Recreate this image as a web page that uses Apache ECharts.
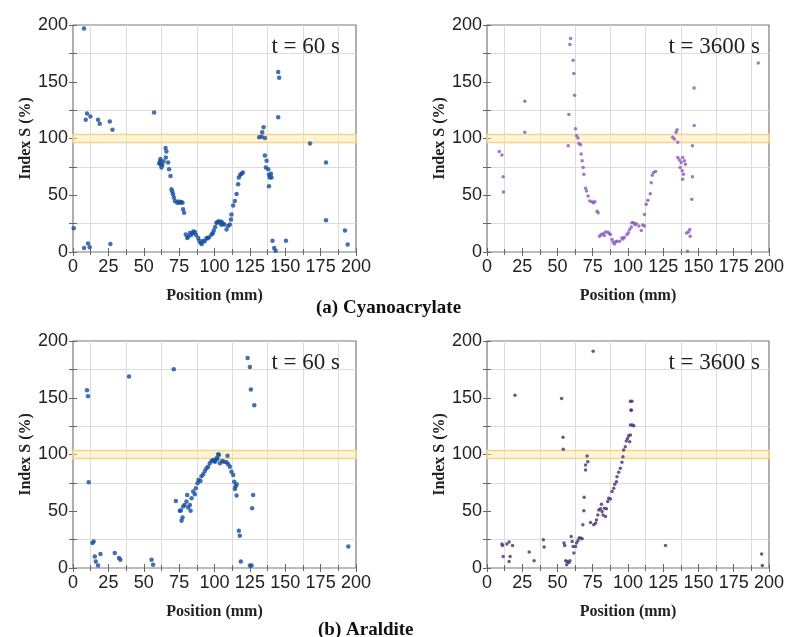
<!DOCTYPE html>
<html>
<head>
<meta charset="utf-8">
<script src="https://cdn.jsdelivr.net/npm/echarts@6/dist/echarts.min.js"></script>
<style>
  html, body { margin: 0; padding: 0; background: #fff; }
  #chart { width: 787px; height: 637px; }
</style>
</head>
<body>
<div id="chart"></div>
<script>
// Index S (%) versus position along the joint (mm), two adhesives, two times.

const xTicks = [0, 25, 50, 75, 100, 125, 150, 175, 200];
const yTicks = [0, 50, 100, 150, 200];
const refBand = [96.5, 103.5];

// (a) Cyanoacrylate, t = 60 s
const cyano60X = [7.8, 0.5, 9, 9.9, 12.3, 17.7, 18.9, 26, 27.9, 7.8, 10.6, 11.8, 26.4, 57.3,
  60.9, 61.8, 62.5, 63.2, 64, 61.5, 62, 65.4, 65.6, 66, 67.2, 67.9, 68.9, 69.6, 70.2, 70.7, 71.3, 72, 73.6, 74.5, 75.5, 76.5, 77.4, 77.8, 78.5,
  79.7, 80.7, 81.5, 82.6, 83.5, 84.5, 85, 86.1, 87, 88.5, 89.3, 90.2, 91, 92, 93, 94.4, 95, 96.2, 97.9, 98.8, 99.5, 100.5, 101.4, 102, 103, 104, 104.8, 105, 106, 107, 108.5, 109.7, 110.9,
  111.6, 112, 113.2, 114.4, 115.6, 116.7, 117.2, 118.2, 119.1, 120,
  131.6, 133.3, 133.7, 134.7, 135.6, 135.6, 136.8, 136.3, 138, 138.5, 139.9, 139, 140.3, 138.5,
  145, 145.7, 145, 167.5, 178.8, 178.8, 192.2, 194.1, 141, 142.2, 143.2, 150.5];
const cyano60Y = [197, 21, 116.5, 122, 119.4, 116.5, 113, 115, 107.6, 3.5, 7.4, 4.2, 7.1, 123,
  78, 82, 74.4, 76.8, 80, 80, 77, 91.6, 83.3, 88.6, 78.9, 73, 67, 55.3, 53, 50.9, 48, 45, 43.5, 44.5, 43.5, 44, 43.5, 37.6, 34.6,
  15.4, 12.4, 13.5, 16.8, 15, 16.8, 18, 17.7, 15, 12.4, 10, 8, 7, 10, 9.5, 12.4, 12, 13, 15.4, 16.5, 19, 22, 25.7, 26, 27, 26, 24, 26.6, 25, 24.3, 19.8, 22.8, 24.3,
  28.7, 33, 41, 45, 51, 59.7, 65.6, 68, 69, 70,
  101, 101.6, 105.5, 110, 100.5, 85, 80.4, 74.4, 73, 68, 69, 65.6, 65.6, 58,
  158.6, 153.6, 118.7, 95.7, 78.9, 28, 19, 6.5, 10, 3.5, 1.2, 10];

// (a) Cyanoacrylate, t = 3600 s
const cyano3600X = [8.7, 10.6, 11.5, 11.7, 26.8, 26.8,
  59.3, 58.8, 61.1, 61.6, 62.1, 58.1, 57.6, 62.8, 63.5, 64.5, 65.2, 66.4, 66.8, 67.5, 68.2, 68.7, 69.9, 70.6, 71.7, 72.9, 74.5, 75.5, 76.5, 78.1, 78.8,
  79.9, 80.9, 82.3, 83.2, 84, 85.6, 86.5, 87.5, 88.7, 89.5, 90.4, 91.3, 92.2, 94.1, 95.7, 96.5, 97.4, 99.3, 100.2, 101.2, 102.4, 102.8, 104, 105, 105.9, 107.7, 109.4, 110.5, 111.7,
  111.7, 112.9, 114.1, 115.8, 116.5, 117.2, 118.1, 119.6,
  131.7, 132.9, 134.1, 134.8, 135.3, 135.3, 136.5, 137.7, 138.8, 140, 137, 138.4, 139.3, 140.7, 138.8,
  146.9, 146.9, 145.7, 145.7, 145.2, 143.8, 142.9, 144.1, 141.5, 142.2, 192.4];
const cyano3600Y = [88.6, 85.4, 66.2, 52.9, 132.9, 105.5,
  188.2, 182.9, 169, 157.2, 138, 121.1, 93.7, 108.5, 102.5, 100.5, 95.7, 94.5, 86.3, 80.4, 74.4, 68.6, 56.2, 53.8, 49.4, 44.9, 44.3, 43.5, 44.3, 36, 34.6,
  13.9, 15.4, 16, 14.5, 17.7, 17.7, 16.5, 15.4, 11, 8.5, 7.1, 9, 9.5, 9.5, 12.4, 11.5, 13, 15.4, 17, 19.8, 22, 25.7, 25.7, 24, 24.8, 22.8, 19, 23.7, 22.8,
  33.1, 42, 45.5, 51.4, 61.1, 67.7, 70, 70.9,
  101, 99.6, 105.5, 107.6, 96.6, 83.3, 81, 78.9, 83.3, 80.4, 74.4, 71.5, 68.6, 77.4, 64.2,
  144.5, 111.4, 93.7, 66.2, 46.4, 19.8, 17.7, 13.9, 16.8, 0.6, 166.6];

// (b) Araldite, t = 60 s
const aral60X = [9.9, 10.6, 11.1, 13.7, 14.6, 15.4, 16.1, 17.7, 19.4, 29.5, 32.5, 33.5, 39.6, 55.5, 56.6, 71.2,
  72.7, 75.5, 76.2, 77.4, 76.7, 77.8, 78.9, 80.2, 80.7, 81.4, 82.6, 83.1, 83.8, 84.9, 86.1, 86.8, 88, 88.7, 90.1, 90.8, 92, 93.2, 94.4, 95.5, 96.7, 97.9, 99, 100.3, 101.4, 102.6,
  100.2, 102.1, 103.1, 103.8, 105.4, 106.8, 108.5, 109.2, 109.7, 110.9, 112, 113.2, 113.9, 114.9, 115.6, 114.4, 115.6,
  117.2, 117.9, 118.6, 123.4, 125, 125.7, 128.1, 127.3, 126.6, 125, 126.2, 194.6];
const aral60Y = [156.7, 151.4, 75.6, 22, 23.4, 10.2, 5.8, 2.3, 12.3, 13.2, 8.8, 7.3, 168.7, 7.3, 2.9, 175.1,
  59.1, 50.4, 50.6, 44.5, 41.6, 54.1, 55.6, 58.5, 64.4, 53.3, 55.6, 50.4, 61.5, 67.3, 65, 70.3, 74.7, 77.6, 76.7, 80.8, 82.6, 85.5, 87.9, 89.3, 92.3, 94.3, 95.2, 93.7, 96.7, 100.2,
  94.3, 96, 99.6, 92.3, 94.3, 93.7, 93.1, 99, 91.4, 89.3, 84.9, 82, 76.1, 71.7, 73.8, 69.7, 63.8,
  32.8, 28.4, 5.8, 185.1, 177.2, 157.3, 143.5, 64.4, 52.7, 2.3, 2.3, 19];

// (b) Araldite, t = 3600 s
const aral3600X = [10.6, 11, 11.5, 14.1, 15.7, 16.4, 15.7, 18.1, 19.8, 29.9, 33.4, 40, 40.5,
  52.9, 53.9, 54.1, 54.6, 55.1, 55.8, 56.9, 58.1, 58.8, 56.5, 59.7, 60.4, 61.1, 61.6, 62.8, 63.5, 64.5, 65.2, 66.4, 67.5,
  68, 68.7, 68.9, 69.9, 69.9, 71, 71.5, 73.4, 75.3, 75.7, 77, 77.6, 78.6, 79.3, 80.5, 81.2, 81.6, 82.3, 83.3, 84, 84.7, 85.6, 86.3, 87.5, 88.7, 89.9, 90.6, 91.8, 92.2, 93.4, 94.6, 95.7, 96.4, 96.9, 98.1, 98.8, 99.7, 100.5,
  101.7, 102.1, 102.8, 101.7, 102.4, 103.1, 101.7, 101.2, 104.1, 126.6, 194.8, 195.3];
const aral3600Y = [21.1, 19.9, 10.2, 21.1, 22.8, 10.2, 5.8, 19.9, 152.3, 14, 6.4, 24.9, 18.5,
  149.4, 115.1, 104.6, 22, 19.9, 6.4, 5.8, 4.9, 6.4, 2.9, 27.8, 23.4, 19, 13.2, 19, 22, 24, 26.4, 26.4, 25.7,
  38, 50.4, 62.4, 86.4, 90.8, 98.7, 93.7, 40.1, 191, 38, 39.5, 42.4, 46.8, 51.2, 52.1, 56.2, 49.7, 46.8, 52.7, 45.3, 52.1, 58.5, 61.5, 60.9, 67.3, 70.3, 73.8, 76.1, 80.5, 84.4, 87.9, 93.1, 98.1, 104, 106.9, 111.9, 114.2, 116.5,
  125.9, 139.1, 147, 147, 139, 125.9, 117.1, 111.2, 125.3, 19.9, 12.3, 2.3];

const panels = [
  { xs: cyano60X,   ys: cyano60Y,   color: '#154c9e', size: 4.5, time: 't = 60 s',   left: 73,  top: 25 },
  { xs: cyano3600X, ys: cyano3600Y, color: '#8a55c2', size: 3.5, time: 't = 3600 s', left: 487, top: 25 },
  { xs: aral60X,    ys: aral60Y,    color: '#154c9e', size: 4.5, time: 't = 60 s',   left: 73,  top: 341 },
  { xs: aral3600X,  ys: aral3600Y,  color: '#4b2d72', size: 3.5, time: 't = 3600 s', left: 487, top: 341 }
];

const PW = 283, PH = 227;
const tickFont = { fontFamily: 'Liberation Sans, Arial, sans-serif', fontSize: 18, color: '#222' };
const nameFont = { fontFamily: 'Liberation Serif, Times New Roman, serif', fontSize: 16, fontWeight: 'bold', color: '#222' };
const gridLine = { show: true, lineStyle: { color: '#dcdcdc', width: 1 } };

const grid = [], xAxis = [], yAxis = [], series = [], graphic = [];

panels.forEach((p, i) => {
  grid.push({ left: p.left, top: p.top, width: PW, height: PH, show: true,
    borderColor: '#7a7a7a', borderWidth: 1.2, backgroundColor: '#fff' });

  const xBase = { gridIndex: i, type: 'value', min: xTicks[0], max: xTicks[xTicks.length - 1],
    interval: xTicks[1] - xTicks[0], axisLine: { show: false },
    axisTick: { show: true, inside: true, length: 4, lineStyle: { color: '#666' } },
    minorTick: { show: true, splitNumber: 2, length: 3, lineStyle: { color: '#666' } },
    splitLine: { show: false } };
  const yBase = { gridIndex: i, type: 'value', min: yTicks[0], max: yTicks[yTicks.length - 1],
    interval: yTicks[1] - yTicks[0], axisLine: { show: false },
    axisTick: { show: true, inside: true, length: 4, lineStyle: { color: '#666' } },
    minorTick: { show: true, splitNumber: 2, length: 4, lineStyle: { color: '#666' } },
    splitLine: { show: false } };

  xAxis.push(Object.assign({}, xBase, {
    position: 'bottom', name: 'Position (mm)', nameLocation: 'middle', nameGap: 36,
    nameTextStyle: nameFont,
    axisLabel: Object.assign({ margin: 6 }, tickFont),
    minorSplitLine: gridLine
  }));
  xAxis.push(Object.assign({}, xBase, { position: 'top', axisLabel: { show: false } }));

  yAxis.push(Object.assign({}, yBase, {
    position: 'left', name: 'Index S (%)', nameLocation: 'middle', nameGap: 36,
    nameTextStyle: nameFont,
    axisLabel: Object.assign({ margin: 5 }, tickFont),
    minorSplitLine: gridLine
  }));
  yAxis.push(Object.assign({}, yBase, { position: 'right', axisLabel: { show: false } }));

  series.push({
    type: 'scatter', xAxisIndex: 2 * i, yAxisIndex: 2 * i,
    data: p.xs.map((x, k) => [x, p.ys[k]]),
    symbol: 'circle', symbolSize: p.size,
    itemStyle: { color: p.color },
    markArea: {
      silent: true,
      itemStyle: { color: 'rgba(253, 232, 170, 0.45)', borderColor: '#f7d48a', borderWidth: 1.5 },
      data: [[{ xAxis: xTicks[0], yAxis: refBand[0] }, { xAxis: xTicks[xTicks.length - 1], yAxis: refBand[1] }]]
    },
    z: 3
  });

  graphic.push({
    type: 'text', right: 787 - (p.left + PW) + (i % 2 === 0 ? 16 : 10), top: p.top + 10,
    style: { text: p.time, fontFamily: 'Liberation Serif, Times New Roman, serif', fontSize: 23, fill: '#222' },
    z: 10
  });
});

graphic.push({ type: 'text', left: 316, top: 299,
  style: { text: '(a) Cyanoacrylate', fontFamily: 'Liberation Serif, Times New Roman, serif', fontSize: 19, fontWeight: 'bold', fill: '#111' } });
graphic.push({ type: 'text', left: 318, top: 621,
  style: { text: '(b) Araldite', fontFamily: 'Liberation Serif, Times New Roman, serif', fontSize: 19, fontWeight: 'bold', fill: '#111' } });

const chart = echarts.init(document.getElementById('chart'), null, { renderer: 'canvas' });
chart.setOption({ backgroundColor: '#fff', animation: false, grid, xAxis, yAxis, series, graphic });
</script>
</body>
</html>
